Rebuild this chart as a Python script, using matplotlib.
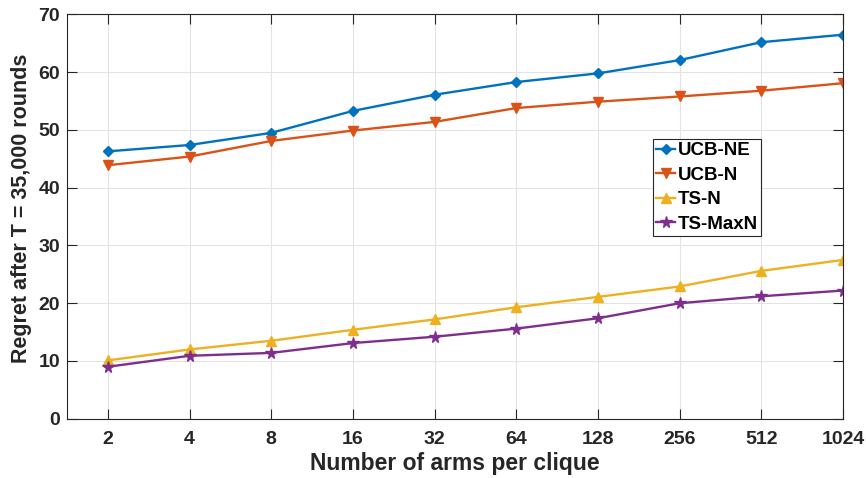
import matplotlib
matplotlib.use('Agg')
import matplotlib.pyplot as plt

# Data
arms = [2, 4, 8, 16, 32, 64, 128, 256, 512, 1024]
ucb_ne = [46.3, 47.4, 49.5, 53.3, 56.1, 58.3, 59.8, 62.1, 65.2, 66.5]
ucb_n = [43.9, 45.4, 48.1, 49.9, 51.4, 53.8, 54.9, 55.8, 56.8, 58.1]
ts_n = [10.1, 12.0, 13.5, 15.4, 17.2, 19.3, 21.1, 22.9, 25.6, 27.5]
ts_maxn = [9.0, 10.9, 11.4, 13.1, 14.2, 15.6, 17.4, 20.0, 21.2, 22.2]

plt.rcParams['font.family'] = ['Liberation Sans', 'DejaVu Sans']
plt.rcParams['font.weight'] = 'bold'

fig = plt.figure(figsize=(8.66, 4.78), dpi=100)
ax = fig.add_axes([0.0774, 0.124, 0.896, 0.8457])

x = list(range(len(arms)))
ax.plot(x, ucb_ne, color='#0072BD', marker='D', markersize=5.5, lw=1.7, label='UCB-NE')
ax.plot(x, ucb_n, color='#D95319', marker='v', markersize=7, lw=1.7, label='UCB-N')
ax.plot(x, ts_n, color='#EDB120', marker='^', markersize=7, lw=1.7, label='TS-N')
ax.plot(x, ts_maxn, color='#7E2F8E', marker='*', markersize=8.5, lw=1.7, label='TS-MaxN')

ax.set_xlim(-0.5, 9)
ax.set_ylim(0, 70)
ax.set_xticks(x)
ax.set_xticklabels([str(a) for a in arms], fontsize=14, fontweight='bold', color='#262626')
ax.set_yticks(range(0, 71, 10))
ax.set_yticklabels([str(v) for v in range(0, 71, 10)], fontsize=14, fontweight='bold', color='#262626')
ax.tick_params(direction='in', top=True, right=True, length=7, width=0.8, color='#262626')
ax.tick_params(axis='x', pad=9)
ax.tick_params(axis='y', pad=5)
ax.grid(True, color='#e3e3e3', lw=0.8)
ax.set_axisbelow(True)
for s in ax.spines.values():
    s.set_color('#262626')
    s.set_linewidth(0.8)

ax.set_xlabel('Number of arms per clique', fontsize=16.5, fontweight='bold', color='#262626', labelpad=3)
ax.set_ylabel('Regret after T = 35,000 rounds', fontsize=15.5, fontweight='bold', color='#262626')
ax.yaxis.set_label_coords(-0.045, 0.52)

leg = ax.legend(loc='upper left', bbox_to_anchor=(0.755, 0.692), fontsize=13.5, frameon=True,
                fancybox=False, edgecolor='#262626', handlelength=1.0, handletextpad=0.15,
                borderpad=0.18, labelspacing=0.39, borderaxespad=0, framealpha=1)
leg.get_frame().set_linewidth(0.8)
for t in leg.get_texts():
    t.set_color('black')

fig.savefig('out.png', dpi=100)
